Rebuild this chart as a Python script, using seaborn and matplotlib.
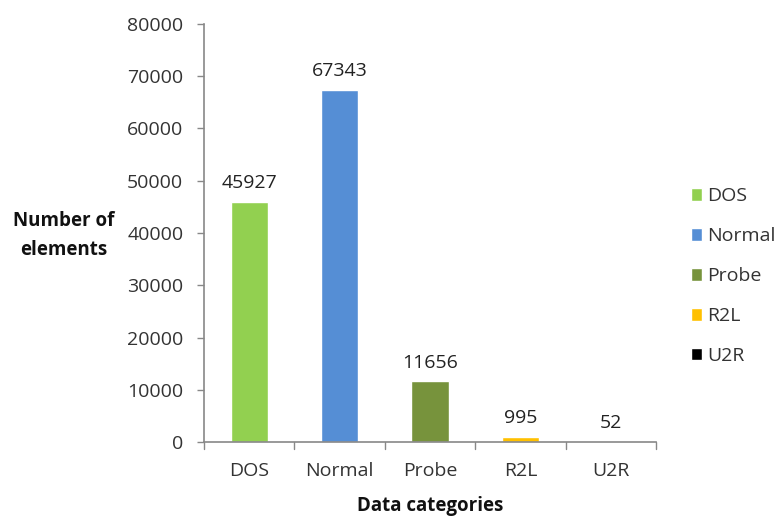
import matplotlib
matplotlib.use("Agg")
import matplotlib.pyplot as plt
import seaborn as sns
import pandas as pd

categories = ["DOS", "Normal", "Probe", "R2L", "U2R"]
counts = [45927, 67343, 11656, 995, 52]
colors = ["#92D050", "#558ED5", "#77933C", "#FFC000", "#000000"]
y_ticks = [0, 10000, 20000, 30000, 40000, 50000, 60000, 70000, 80000]

sns.set_theme(style="white")
plt.rcParams["font.family"] = ["Open Sans", "DejaVu Sans"]

df = pd.DataFrame({"category": categories, "count": counts})

fig = plt.figure(figsize=(7.79, 5.19), dpi=100)
ax = fig.add_axes([0.262, 0.148, 0.58, 0.806])

sns.barplot(data=df, x="category", y="count", hue="category",
            palette=dict(zip(categories, colors)), dodge=False,
            width=0.41, saturation=1, ax=ax, legend=True)

for cont, v in zip(ax.containers, counts):
    ax.bar_label(cont, labels=[str(v)], padding=7, fontsize=14, color="#222222")

ax.set_ylim(0, 80000)
ax.set_yticks(y_ticks)
ax.set_yticklabels([str(t) for t in y_ticks], fontsize=14, color="#333333")
ax.set_xlim(-0.5, len(categories) - 0.5)
ax.set_xticks(range(len(categories)))
ax.set_xticklabels(categories, fontsize=14, color="#333333")
ax.tick_params(axis="x", length=0, pad=14)
ax.tick_params(axis="y", length=5, width=1, color="#888888", left=True, pad=10)
# category boundary tick marks on the x axis
for b in [i + 0.5 for i in range(-1, len(categories))]:
    ax.plot([b, b], [0, -1300], color="#888888", lw=1, clip_on=False,
            transform=ax.transData)

sns.despine(ax=ax, top=True, right=True)
for s in ["left", "bottom"]:
    ax.spines[s].set_color("#888888")
    ax.spines[s].set_linewidth(1.2)

ax.set_xlabel("Data categories", fontsize=13.5, fontweight="bold", labelpad=12,
              color="#111111")
ax.set_ylabel("")
fig.text(0.082, 0.547, "Number of\nelements", fontsize=13.5, fontweight="bold",
         ha="center", va="center", linespacing=1.6, color="#111111")

leg = ax.legend(loc="upper left", bbox_to_anchor=(1.06, 0.628), frameon=False,
                fontsize=14, handlelength=0.6, handleheight=0.6,
                handletextpad=0.25, labelspacing=1.13, borderaxespad=0)
for t in leg.get_texts():
    t.set_color("#333333")

fig.savefig("out.png", dpi=100)
